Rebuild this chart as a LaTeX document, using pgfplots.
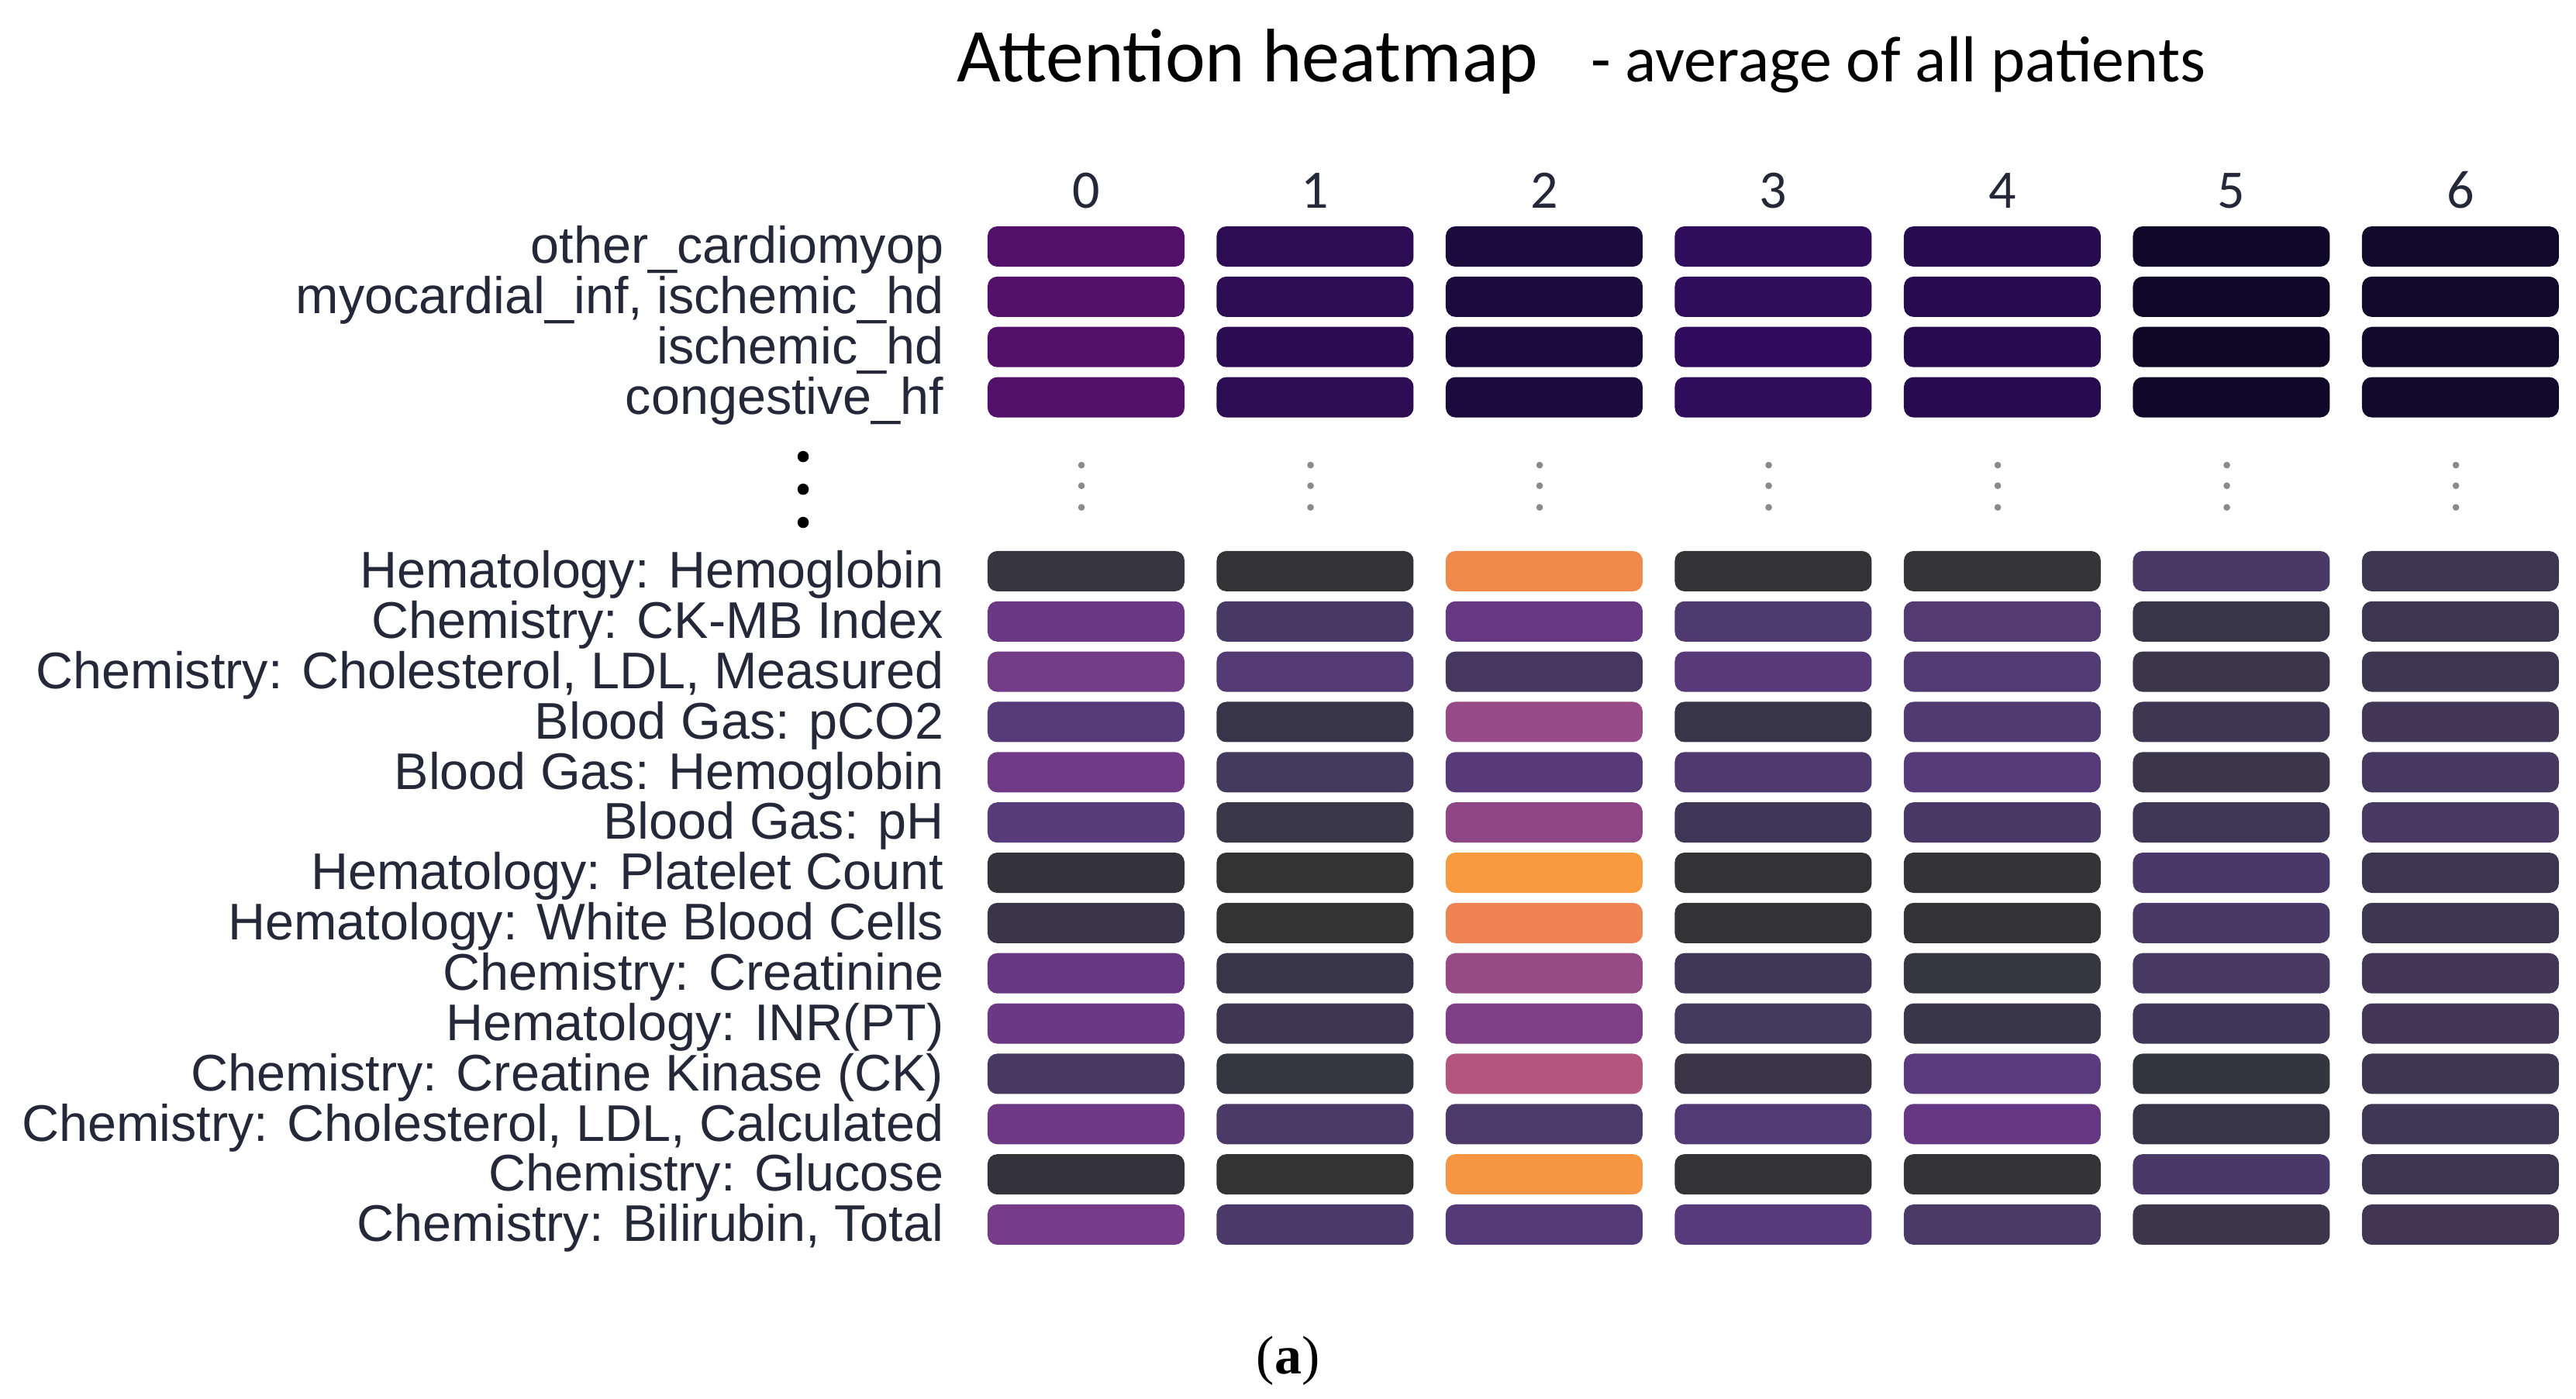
\documentclass[border=0pt]{standalone}
\usepackage{fontspec}
\setmainfont{Liberation Sans}
\newfontfamily\titlefont{Carlito}
\newfontfamily\capfont{Liberation Serif}
\usepackage{pgfplots}
\usepackage{pgfplotstable}
\pgfplotsset{compat=1.18}
\definecolor{labelc}{HTML}{252838}
\definecolor{dotgray}{HTML}{8A8A8A}

% rounded cell, 254 x 52 px of the reference, corner radius 2.5pt
\pgfdeclareplotmark{cell}{%
  \pgfpathmoveto{\pgfpoint{-22.9pt}{-5.2pt}}%
  \pgfpathlineto{\pgfpoint{22.9pt}{-5.2pt}}%
  \pgfpatharc{-90}{0}{2.5pt}%
  \pgfpathlineto{\pgfpoint{25.4pt}{2.7pt}}%
  \pgfpatharc{0}{90}{2.5pt}%
  \pgfpathlineto{\pgfpoint{-22.9pt}{5.2pt}}%
  \pgfpatharc{90}{180}{2.5pt}%
  \pgfpathlineto{\pgfpoint{-25.4pt}{-2.7pt}}%
  \pgfpatharc{180}{270}{2.5pt}%
  \pgfpathclose
  \pgfusepathqfill}

\pgfplotsset{
  cellplot/.style={only marks, scatter, mark=cell, point meta=explicit symbolic,
    scatter/@pre marker code/.code={%
      \edef\tmpdef{\noexpand\definecolor{cellc}{HTML}{\pgfplotspointmeta}}\tmpdef
      \pgfsetfillcolor{cellc}},
    scatter/@post marker code/.code={}}
}

% diagnoses (upper block)
\pgfplotstableread{
y c0 c1 c2 c3 c4 c5 c6
0 53106A 2C0C53 1B0A3C 300C5C 260B4F 0F0828 120A2D
1 53106A 2C0C53 1B0A3C 300C5C 260B4F 0F0828 120A2D
2 540F6B 2B0B52 1A0A3B 300B5D 260B4F 0E0826 110A2C
3 53106A 2C0C53 1B0A3C 300C5C 260B4F 0F0828 120A2D
}\toprows

% lab tests (lower block)
\pgfplotstableread{
y c0 c1 c2 c3 c4 c5 c6
6.46  383542 333335 F08A4B 333336 353539 4A3966 3D3650
7.46  6A3884 463A64 673982 4F3A70 533B72 393548 3D3650
8.46  733C87 533A72 45385E 583A7A 523A72 3B3649 3D3650
9.46  563A7A 383548 964A87 393548 503A70 3E3652 423756
10.46 703A86 433A5E 583A7A 50396E 573A79 3B3649 463960
11.46 573B7B 3A3749 8E4687 3F3757 4A3966 3F3756 493A63
12.46 333339 333334 F89A40 333335 333338 4A3968 3C3650
13.46 3A3548 333334 EE8354 333335 333337 4A3966 3C3650
14.46 673783 383548 984A85 403757 363542 473960 433758
15.46 6A3884 3C3650 7F3F86 433A5E 3A3649 413758 433758
16.46 473960 363542 B3557D 393546 5B3A7E 353540 3E3652
17.46 6E3885 4B3A68 4D3A6B 523A74 663883 393548 3F3755
18.46 333339 333334 F69645 333335 333338 4A3968 3C3650
19.46 763C89 4B3A69 553A78 573A7C 4B3A66 3B3649 413755
}\bottomrows

\begin{document}
\begin{tikzpicture}
\useasboundingbox (0,0) rectangle (664.6pt,-361pt);

\node[anchor=base west, inner sep=0pt] at (246.6pt,-21.1pt)
  {\titlefont\fontsize{19.6}{20}\selectfont Attention heatmap};
\node[anchor=base west, inner sep=0pt] at (410.2pt,-21.1pt)
  {\titlefont\fontsize{16.8}{18}\selectfont - average of all patients};

\begin{axis}[
  at={(250.65pt,-57.115pt)}, anchor=north west,
  width=413.7pt, height=265.885pt, scale only axis,
  xmin=-0.5, xmax=6.5, ymin=-0.5, ymax=20,
  y dir=reverse, clip=false,
  axis line style={draw=none},
  major tick length=0pt, tick style={draw=none},
  /pgf/number format/assume math mode=true,
  xtick={0,...,6}, xticklabels={0,1,2,3,4,5,6}, xticklabel pos=upper,
  xticklabel style={font=\titlefont\fontsize{14}{14}\selectfont, text=labelc,
    anchor=mid, inner sep=0pt, yshift=6pt},
  ytick={0,1,2,3,6.46,7.46,8.46,9.46,10.46,11.46,12.46,13.46,14.46,15.46,16.46,17.46,18.46,19.46},
  yticklabels={{other\_cardiomyop},{myocardial\_inf, ischemic\_hd},{ischemic\_hd},{congestive\_hf},
    {Hematology: Hemoglobin},{Chemistry: CK-MB Index},{Chemistry: Cholesterol, LDL, Measured},
    {Blood Gas: pCO2},{Blood Gas: Hemoglobin},{Blood Gas: pH},{Hematology: Platelet Count},
    {Hematology: White Blood Cells},{Chemistry: Creatinine},{Hematology: INR(PT)},
    {Chemistry: Creatine Kinase (CK)},{Chemistry: Cholesterol, LDL, Calculated},
    {Chemistry: Glucose},{Chemistry: Bilirubin, Total}},
  yticklabel style={font=\fontsize{13.3}{13.3}\selectfont, text=labelc,
    anchor=mid east, inner sep=0pt, xshift=-7pt, yshift=-1.7pt},
]
\pgfplotsinvokeforeach{0,...,6}{
  \addplot[cellplot] table[x expr=#1, y=y, meta=c#1] {\toprows};
  \addplot[cellplot] table[x expr=#1, y=y, meta=c#1] {\bottomrows};
}
% vertical ellipsis in each column
\addplot[only marks, mark=*, mark size=0.65pt, dotgray] coordinates {
  (-0.02,4.35) (-0.02,4.76) (-0.02,5.19)
  (0.98,4.35) (0.98,4.76) (0.98,5.19)
  (1.98,4.35) (1.98,4.76) (1.98,5.19)
  (2.98,4.35) (2.98,4.76) (2.98,5.19)
  (3.98,4.35) (3.98,4.76) (3.98,5.19)
  (4.98,4.35) (4.98,4.76) (4.98,5.19)
  (5.98,4.35) (5.98,4.76) (5.98,5.19)
};
% ellipsis beside the row labels
\addplot[only marks, mark=*, mark size=1.25pt, black] coordinates {
  (-1.235,4.18) (-1.235,4.83) (-1.235,5.49)
};
\end{axis}

\node[anchor=base, inner sep=0pt] at (332.3pt,-354.4pt)
  {\capfont\fontsize{14}{14}\selectfont (\textbf{a})};
\end{tikzpicture}
\end{document}
